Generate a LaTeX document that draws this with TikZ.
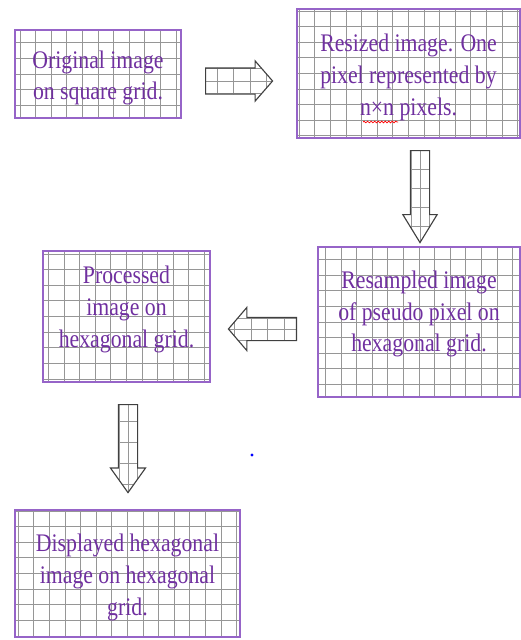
\documentclass[tikz,border=0pt]{standalone}
\usepackage{fontspec}
\usepackage{tikz}
\usetikzlibrary{shapes.arrows,decorations.pathmorphing}
\setmainfont{Liberation Serif}
\newfontfamily\boxfont[FakeStretch=0.86]{Liberation Serif}
\definecolor{textpurple}{RGB}{112,48,160}
\definecolor{framepurple}{RGB}{150,100,200}
\definecolor{gridgray}{RGB}{150,150,150}
\tikzset{
    gridbox/.style={draw=framepurple, line width=1pt, inner sep=0pt,
        path picture={\draw[gridgray, line width=0.6pt] (-10cm,-10cm) grid[step=0.39cm] (10cm,10cm);}},
    boxtext/.style={text=textpurple, align=center, inner sep=0pt,
        font=\boxfont\fontsize{18}{22.5}\selectfont},
    blockarrow/.style 2 args={single arrow, draw=black!75, line width=0.8pt, minimum width=0pt,
        path picture={\draw[gridgray, line width=0.5pt] (-10cm,-10cm) grid[xstep=#1, ystep=#2] (10cm,10cm);}}
}
\begin{document}
\begin{tikzpicture}[x=0.025cm, y=-0.025cm]
    \useasboundingbox (0,0) rectangle (521,640);
    % Boxes
    \node at (98,74) [gridbox, minimum width=4.15cm, minimum height=2.2cm] (orig) {};
    \node at (orig.center) [boxtext, yshift=-0.1cm] (origtext) {Original image\\on square grid.};
    \node at (408.5,73.5) [gridbox, minimum width=5.575cm, minimum height=3.225cm] (resized) {};
    \node at (resized.center) [boxtext, yshift=-0.1cm] (resizedtext)
        {Resized image. One\\pixel represented by\\n×n pixels.};
    \node at (419,322) [gridbox, minimum width=5.05cm, minimum height=3.75cm] (resampled) {};
    \node at (resampled.center) [boxtext, yshift=0.2cm] (resampledtext)
        {Resampled image\\of pseudo pixel on\\hexagonal grid.};
    \node at (126.5,316.5) [gridbox, minimum width=4.175cm, minimum height=3.275cm] (processed) {};
    \node at (processed.center) [boxtext, yshift=0.175cm] (processedtext)
        {Processed\\image on\\hexagonal grid.};
    \node at (127.5,573.5) [gridbox, minimum width=5.625cm, minimum height=3.175cm] (displayed) {};
    \node at (displayed.center) [boxtext, yshift=-0.1cm] (displayedtext)
        {Displayed hexagonal\\image on hexagonal\\grid.};
    % spell check squiggle
    \draw[red, line width=0.5pt, decorate, decoration={snake, amplitude=0.6pt, segment length=2.5pt}]
        (363,122) -- (398,122);
    % Arrows
    \node at (205,81) [blockarrow={0.4125cm}{0.3125cm}, anchor=tail, minimum height=1.675cm,
        inner sep=0.3125cm, single arrow head extend=0.175cm, single arrow tip angle=98] (arrowA) {};
    \node at (420,150) [blockarrow={0.225cm}{0.475cm}, shape border rotate=270, anchor=tail,
        minimum height=2.3cm, inner sep=0.225cm, single arrow head extend=0.19cm, single arrow tip angle=63] (arrowB) {};
    \node at (297,329) [blockarrow={0.4125cm}{0.275cm}, shape border rotate=180, anchor=tail,
        minimum height=1.7cm, inner sep=0.275cm, single arrow head extend=0.25cm, single arrow tip angle=99] (arrowC) {};
    \node at (128,404) [blockarrow={0.225cm}{0.525cm}, shape border rotate=270, anchor=tail,
        minimum height=2.2cm, inner sep=0.225cm, single arrow head extend=0.2cm, single arrow tip angle=71] (arrowD) {};
    \fill[blue] (252,455) circle (1.1pt);
\end{tikzpicture}
\end{document}
